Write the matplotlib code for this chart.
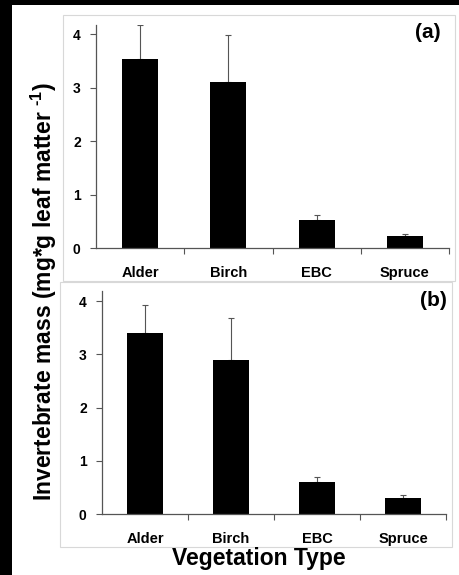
import matplotlib
matplotlib.use("Agg")
import matplotlib.pyplot as plt
from matplotlib.patches import Rectangle

categories = ["Alder", "Birch", "EBC", "Spruce"]
# panel (a)
mass_a = [3.53, 3.10, 0.52, 0.22]
err_a = [0.64, 0.88, 0.10, 0.04]
# panel (b)
mass_b = [3.40, 2.89, 0.60, 0.30]
err_b = [0.52, 0.79, 0.10, 0.06]

plt.rcParams["font.family"] = ["Liberation Sans", "DejaVu Sans"]
plt.rcParams["font.weight"] = "bold"
plt.rcParams["mathtext.fontset"] = "custom"
plt.rcParams["mathtext.bf"] = "Liberation Sans:bold"
plt.rcParams["mathtext.rm"] = "Liberation Sans:bold"

W, H = 459, 575
fig = plt.figure(figsize=(W / 100, H / 100), dpi=100)
fig.patch.set_facecolor("white")

# black strips on the left and top edges
fig.patches.append(Rectangle((0, 0), 12 / W, 1, transform=fig.transFigure,
                             facecolor="black", edgecolor="none", zorder=-5))
fig.patches.append(Rectangle((0, 1 - 5 / H), 1, 5 / H, transform=fig.transFigure,
                             facecolor="black", edgecolor="none", zorder=-5))

# light grey panel frames
for (x0, y0, x1, y1) in [(63, 15, 455, 281), (60, 282, 452, 547)]:
    fig.patches.append(Rectangle((x0 / W, 1 - y1 / H), (x1 - x0) / W, (y1 - y0) / H,
                                 transform=fig.transFigure, facecolor="white",
                                 edgecolor="#d8d8d8", linewidth=0.8, zorder=-5))


def draw_panel(ax, vals, errs, ytop):
    x = range(len(categories))
    ax.bar(x, vals, width=0.41, color="black", zorder=2)
    ax.errorbar(x, vals, yerr=[[0] * len(errs), errs], fmt="none",
                ecolor="#555555", elinewidth=0.8, capsize=2, capthick=0.8, zorder=1)
    ax.set_xlim(-0.5, 3.5)
    ax.set_ylim(0, ytop)
    ax.set_yticks([0, 1, 2, 3, 4])
    ax.set_xticks([0.5, 1.5, 2.5, 3.5])
    ax.set_xticklabels([])
    ax.set_xticks(list(x), minor=True)
    ax.set_xticklabels(categories, minor=True, fontsize=10.5, fontweight="bold")
    ax.tick_params(axis="x", which="minor", length=0, pad=13)
    ax.tick_params(axis="x", which="major", length=4, width=0.8, color="#555555")
    ax.tick_params(axis="y", length=4, width=0.8, color="#555555", labelsize=10, pad=7)
    for lab in ax.get_yticklabels():
        lab.set_fontweight("bold")
    for s in ["top", "right"]:
        ax.spines[s].set_visible(False)
    for s in ["left", "bottom"]:
        ax.spines[s].set_color("#555555")
        ax.spines[s].set_linewidth(0.9)
    ax.patch.set_alpha(0)


ax_a = fig.add_axes([96 / W, 1 - 248 / H, 353 / W, 223 / H])
draw_panel(ax_a, mass_a, err_a, 4.17)
ax_b = fig.add_axes([102 / W, 1 - 514 / H, 344 / W, 223 / H])
draw_panel(ax_b, mass_b, err_b, 4.19)

fig.text(441 / W, 1 - 33 / H, "(a)", ha="right", va="center", fontsize=15, fontweight="bold")
fig.text(447 / W, 1 - 300 / H, "(b)", ha="right", va="center", fontsize=15, fontweight="bold")

fig.text(44 / W, 1 - 292 / H, "Invertebrate mass (mg*g leaf matter $^{\\text{-1}}$)",
         rotation=90, ha="center", va="center", fontsize=16.5, fontweight="bold")
fig.text(259 / W, 1 - 558 / H, "Vegetation Type", ha="center", va="center",
         fontsize=16.5, fontweight="bold")

fig.savefig("out.png", dpi=100)
